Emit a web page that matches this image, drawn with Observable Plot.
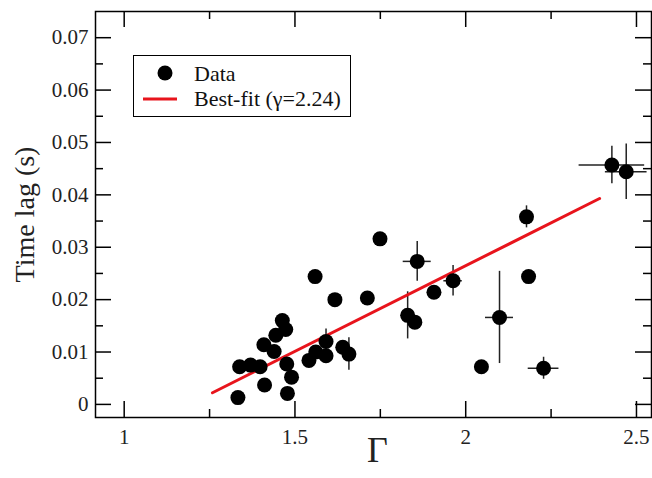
<!DOCTYPE html>
<html><head><meta charset="utf-8">
<script src="https://cdn.jsdelivr.net/npm/d3@7"></script>
<script src="https://cdn.jsdelivr.net/npm/@observablehq/plot@0.6"></script>
<style>
body{margin:0;background:#fff;}
#wrap{position:relative;width:652px;height:478px;font-family:'Liberation Serif',serif;}
#legend{position:absolute;left:133px;top:55px;width:216px;height:60px;border:1.5px solid #000;background:#fff;}
#legend .row{position:absolute;left:0;height:24px;font-size:22px;line-height:24px;color:#111;white-space:nowrap;}
#legend svg{position:absolute;left:0;top:0;}
</style></head><body><div id="wrap"></div>
<script>
// Data
const gamma = [1.333,1.338,1.370,1.398,1.411,1.409,1.439,1.444,1.463,1.473,1.476,1.490,1.478,1.541,1.561,1.591,1.591,1.640,1.658,1.559,1.617,1.712,1.749,1.830,1.851,1.858,1.907,1.963,2.046,2.099,2.178,2.184,2.228,2.428,2.470];
const lag   = [0.0013,0.0072,0.0075,0.0072,0.0037,0.0114,0.0101,0.0132,0.0160,0.0143,0.0077,0.0052,0.0021,0.0084,0.0100,0.0093,0.0120,0.0109,0.0096,0.0244,0.0200,0.0203,0.0316,0.0170,0.0157,0.0273,0.0214,0.0236,0.0072,0.0166,0.0358,0.0244,0.0069,0.0457,0.0444];
const gammaErr = [0,0,0,0,0,0,0,0,0,0,0,0,0,0,0,0,0,0,0,0,0,0,0,0,0,0.041,0,0.027,0,0.041,0,0,0.045,0.096,0.061];
const lagErr   = [0,0,0,0,0,0,0,0,0,0,0,0,0,0,0,0,0.0024,0,0.0031,0,0,0,0,0.0045,0,0.0038,0,0.0029,0,0.0088,0.0021,0,0.0021,0.0036,0.0053];
const fitGamma = [1.2585, 2.392];
const fitLag   = [0.00223, 0.0393];
const xMajor = [1, 1.5, 2, 2.5];
const xMinor = [1.25, 1.75, 2.25];
const xTickLabels = ["1","1.5","2","2.5"];
const yMajor = [0,0.01,0.02,0.03,0.04,0.05,0.06,0.07];
const yMinor = [0.005,0.015,0.025,0.035,0.045,0.055,0.065];
const yTickLabels = ["0","0.01","0.02","0.03","0.04","0.05","0.06","0.07"];
const xLabel = "Γ";
const yLabel = "Time lag (s)";
const legendLabels = ["Data","Best-fit (γ=2.24)"];

const W=652,H=478,mL=95,mR=1,mT=11,mB=61;
const pw=W-mL-mR, ph=H-mT-mB;
const pts = gamma.map((g,i)=>({g, t:lag[i], ge:gammaErr[i], te:lagErr[i]}));
const fit = fitGamma.map((g,i)=>({g, t:fitLag[i]}));
const ink="#000";
const plot = Plot.plot({
  width:W, height:H, marginLeft:mL, marginRight:mR, marginTop:mT, marginBottom:mB,
  x:{domain:[0.916,2.544]}, y:{domain:[-0.0025,0.075]},
  style:{fontFamily:"'Liberation Serif', serif", background:"#fff", color:"#222"},
  marks:[
    Plot.ruleY(pts.filter(d=>d.ge>0), {y:"t", x1:d=>d.g-d.ge, x2:d=>d.g+d.ge, stroke:"#222", strokeWidth:1.5}),
    Plot.ruleX(pts.filter(d=>d.te>0), {x:"g", y1:d=>d.t-d.te, y2:d=>d.t+d.te, stroke:"#222", strokeWidth:1.5}),
    Plot.line(fit, {x:"g", y:"t", stroke:"#e8141c", strokeWidth:3}),
    Plot.dot(pts, {x:"g", y:"t", r:7.5, fill:"#000"}),
    Plot.tickX(xMajor, {x:d=>d, insetTop:ph-16, stroke:ink, strokeWidth:1.5}),
    Plot.tickX(xMinor, {x:d=>d, insetTop:ph-8, stroke:ink, strokeWidth:1.5}),
    Plot.tickX(xMajor, {x:d=>d, insetBottom:ph-16, stroke:ink, strokeWidth:1.5}),
    Plot.tickX(xMinor, {x:d=>d, insetBottom:ph-8, stroke:ink, strokeWidth:1.5}),
    Plot.tickY(yMajor, {y:d=>d, insetRight:pw-16, stroke:ink, strokeWidth:1.5}),
    Plot.tickY(yMinor, {y:d=>d, insetRight:pw-8, stroke:ink, strokeWidth:1.5}),
    Plot.tickY(yMajor, {y:d=>d, insetLeft:pw-16, stroke:ink, strokeWidth:1.5}),
    Plot.tickY(yMinor, {y:d=>d, insetLeft:pw-8, stroke:ink, strokeWidth:1.5}),
    Plot.frame({stroke:ink, strokeWidth:1.5}),
    Plot.axisX({ticks:xMajor, tickSize:0, tickPadding:12, fontSize:21, label:null,
      tickFormat:d=>xTickLabels[xMajor.indexOf(d)]}),
    Plot.axisY({ticks:yMajor, tickSize:0, tickPadding:7, fontSize:21, label:null,
      tickFormat:d=>yTickLabels[yMajor.indexOf(d)]}),
    Plot.text([yLabel], {frameAnchor:"left", textAnchor:"middle", dx:-70, rotate:-90, fontSize:28, fill:"#222"}),
    Plot.text([xLabel], {frameAnchor:"bottom", textAnchor:"middle", dx:4, dy:44, fontSize:36, fill:"#222"})
  ]
});
const wrap=document.getElementById("wrap");
wrap.appendChild(plot);
const lg=document.createElement("div");
lg.id="legend";
lg.innerHTML=`<svg width="216" height="60"><circle cx="31" cy="17" r="7.5" fill="#000"/><line x1="9" x2="43" y1="43" y2="43" stroke="#e8141c" stroke-width="3"/></svg>
<div class="row" style="left:60px;top:6px">${legendLabels[0]}</div>
<div class="row" style="left:60px;top:31px">${legendLabels[1]}</div>`;
wrap.appendChild(lg);
</script></body></html>
